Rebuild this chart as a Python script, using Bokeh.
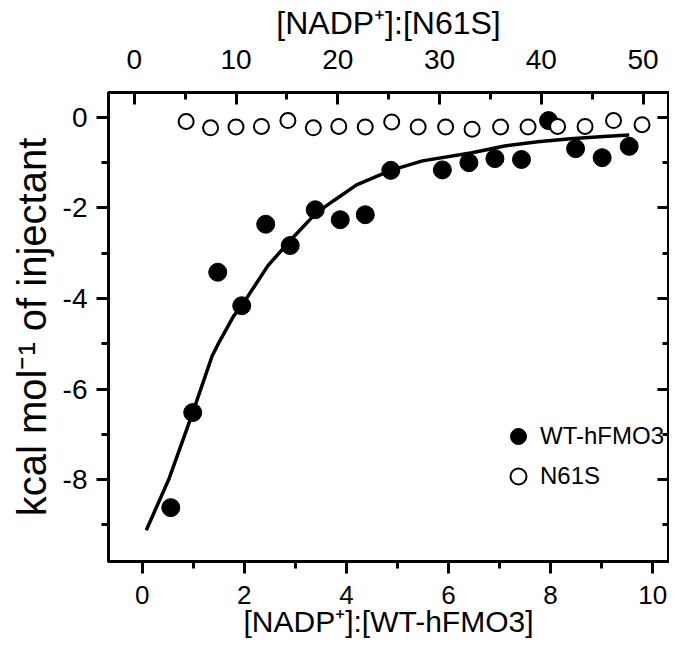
from bokeh.plotting import figure
from bokeh.models import (Range1d, LinearAxis, SingleIntervalTicker, Legend,
                          LegendItem, CustomJSTickFormatter)
from bokeh.embed import file_html
from bokeh.resources import INLINE

# ---- data ----
wt_ratio = [0.56, 0.99, 1.48, 1.95, 2.42, 2.90, 3.39, 3.88, 4.37, 4.87,
            5.88, 6.40, 6.91, 7.43, 7.96, 8.49, 9.01, 9.54]
wt_heat = [-8.62, -6.52, -3.42, -4.16, -2.36, -2.83, -2.04, -2.26, -2.15, -1.17,
           -1.16, -1.00, -0.91, -0.93, -0.07, -0.69, -0.89, -0.64]

n61s_ratio = [5.1, 7.5, 10.0, 12.5, 15.1, 17.6, 20.1, 22.7, 25.3, 27.9,
              30.6, 33.2, 36.0, 38.7, 41.6, 44.3, 47.1, 49.9]
n61s_heat = [-0.09, -0.23, -0.21, -0.20, -0.07, -0.23, -0.20, -0.21, -0.10, -0.21,
             -0.21, -0.26, -0.21, -0.21, -0.20, -0.20, -0.07, -0.16]

fit_ratio = [0.08, 0.53, 0.99, 1.37, 1.50, 1.79, 1.95, 2.46, 2.90, 3.40,
             3.75, 4.20, 4.87, 5.49, 6.46, 7.10, 7.75, 8.39, 9.04, 9.54]
fit_heat = [-9.12, -7.97, -6.52, -5.27, -4.98, -4.39, -4.16, -3.28, -2.72, -2.12,
            -1.84, -1.49, -1.17, -0.96, -0.78, -0.63, -0.54, -0.47, -0.42, -0.39]

bottom_title = "[NADP\u207a]:[WT-hFMO3]"
top_title = "[NADP\u207a]:[N61S]"
left_title = "kcal mol\u207b\u00b9 of injectant"
series_names = ["WT-hFMO3", "N61S"]

FONT = "Liberation Sans"

p = figure(width=669, height=640, output_backend="svg", toolbar_location=None,
           x_range=Range1d(-0.66, 10.31), y_range=Range1d(-9.81, 0.55),
           x_axis_location=None, y_axis_location=None,
           min_border_left=108, min_border_right=1,
           min_border_top=92, min_border_bottom=78)
p.extra_x_ranges = {"top": Range1d(-2.53, 52.5)}
p.xgrid.visible = False
p.ygrid.visible = False
p.outline_line_color = "black"
p.outline_line_width = 3
p.background_fill_color = "white"
p.border_fill_color = "white"

plain = CustomJSTickFormatter(code="return tick.toString()")


def style(ax, tick_fs, title_fs, ticks_in=False):
    ax.axis_line_width = 3
    ax.major_tick_line_width = 3
    ax.minor_tick_line_width = 3
    if ticks_in:
        ax.major_tick_in = 12
        ax.major_tick_out = 0
        ax.minor_tick_in = 7
        ax.minor_tick_out = 0
    else:
        ax.major_tick_in = 0
        ax.major_tick_out = 12
        ax.minor_tick_in = 0
        ax.minor_tick_out = 7
    ax.major_label_text_font = FONT
    ax.major_label_text_font_size = tick_fs
    ax.major_label_text_color = "black"
    ax.axis_label_text_font = FONT
    ax.axis_label_text_font_style = "normal"
    ax.axis_label_text_font_size = title_fs
    ax.axis_label_text_color = "black"


bottom = LinearAxis(ticker=SingleIntervalTicker(interval=2, num_minor_ticks=2),
                    formatter=plain, axis_label=bottom_title)
style(bottom, "26px", "30px")
bottom.major_label_standoff = 12
bottom.axis_label_standoff = -2
p.add_layout(bottom, "below")

left = LinearAxis(ticker=SingleIntervalTicker(interval=2, num_minor_ticks=2),
                  formatter=plain, axis_label=left_title)
style(left, "28px", "40px")
left.major_label_standoff = 9
left.axis_label_standoff = 6
p.add_layout(left, "left")

top = LinearAxis(x_range_name="top",
                 ticker=SingleIntervalTicker(interval=10, num_minor_ticks=2),
                 formatter=plain, axis_label=top_title)
style(top, "28px", "32px", ticks_in=True)
top.major_label_standoff = 24
top.axis_label_standoff = 6
p.add_layout(top, "above")

right = LinearAxis(ticker=SingleIntervalTicker(interval=2, num_minor_ticks=2),
                   formatter=CustomJSTickFormatter(code="return ''"))
style(right, "0px", "0px", ticks_in=True)
right.major_tick_in = 11
right.minor_tick_in = 6
right.major_label_standoff = 0
p.add_layout(right, "right")

p.line(fit_ratio, fit_heat, line_color="black", line_width=3.5)
r_wt = p.scatter(wt_ratio, wt_heat, size=18, marker="circle",
                 fill_color="black", line_color="black", line_width=1)
r_n = p.scatter(n61s_ratio, n61s_heat, x_range_name="top", size=15,
                marker="circle", fill_color="white", line_color="black",
                line_width=2)

legend = Legend(items=[LegendItem(label=series_names[0], renderers=[r_wt]),
                       LegendItem(label=series_names[1], renderers=[r_n])],
                location=(390, 65))
legend.background_fill_alpha = 0
legend.border_line_color = None
legend.label_text_font = FONT
legend.label_text_font_size = "24px"
legend.label_text_color = "black"
legend.glyph_width = 40
legend.glyph_height = 40
legend.label_standoff = 2
legend.spacing = 0
legend.padding = 0
legend.margin = 0
legend.label_height = 28
p.add_layout(legend)

open("out.html", "w").write(file_html(p, INLINE))
